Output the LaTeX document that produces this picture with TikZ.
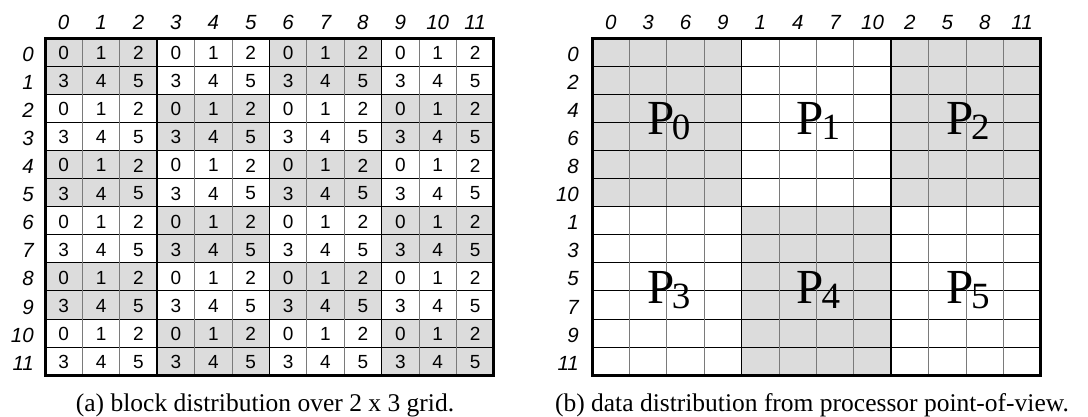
\documentclass[tikz,border=0pt]{standalone}
\usepackage{fontspec}
\setmainfont{Liberation Serif}
\setsansfont{Liberation Sans}
\definecolor{cellgray}{HTML}{DCDCDC}
\definecolor{linegray}{HTML}{7A7A7A}
\begin{document}
\begin{tikzpicture}[x=1pt,y=-1pt,
  num/.style={font=\sffamily\fontsize{19}{19}\selectfont, inner sep=0pt},
  lab/.style={font=\sffamily\itshape\fontsize{20.5}{20.5}\selectfont, inner sep=0pt},
  captext/.style={font=\fontsize{25.5}{26}\selectfont, inner sep=0pt, anchor=base},
  plab/.style={inner sep=0pt},
  hline/.style={line width=1pt, black},
  vline/.style={line width=1pt, linegray},
  blockline/.style={line width=1.6pt, black},
  border/.style={line width=3pt, black},
]
\useasboundingbox (0,0) rectangle (1088,416);
\def\cw{37.4}
\def\rh{28.1}
% ---------- left grid (a) ----------
\foreach \r in {0,...,11} {
  \foreach \c in {0,...,11} {
    \pgfmathtruncatemacro{\rb}{div(\r,2)}
    \pgfmathtruncatemacro{\cb}{div(\c,3)}
    \pgfmathtruncatemacro{\sh}{mod(\rb+\cb,2)}
    \pgfmathtruncatemacro{\val}{3*mod(\r,2)+mod(\c,3)}
    \ifnum\sh=0 \fill[cellgray] (45+\c*\cw, 38+\r*\rh) rectangle ++(\cw,\rh); \fi
    \node[num] (a-\r-\c) at (45+\c*\cw+\cw/2, 38+\r*\rh+\rh/2+1) {\val};
  }
}
\foreach \r in {1,...,11} {
  \draw[hline] (45, 38+\r*\rh) -- (45+12*\cw, 38+\r*\rh);
}
\foreach \c in {1,2,4,5,7,8,10,11} {
  \draw[vline] (45+\c*\cw, 38) -- (45+\c*\cw, 38+12*\rh);
}
\foreach \c in {3,6,9} {
  \draw[blockline] (45+\c*\cw, 38) -- (45+\c*\cw, 38+12*\rh);
}
\draw[border] (45,38) rectangle (45+12*\cw, 38+12*\rh);
\foreach \r in {0,...,11} {
  \node[lab, anchor=east] (ar-\r) at (34, 38+\r*\rh+\rh/2+2) {\r};
}
\foreach \c in {0,...,11} {
  \node[lab, anchor=base] (ac-\c) at (45+\c*\cw+\cw/2, 29.5) {\c};
}
\node[captext] (capa) at (265, 411) {(a) block distribution over 2 x 3 grid.};
% ---------- right grid (b) ----------
\fill[cellgray] (592, 38) rectangle ++(4*\cw, 6*\rh);
\fill[cellgray] (592+8*\cw, 38) rectangle ++(4*\cw, 6*\rh);
\fill[cellgray] (592+4*\cw, 38+6*\rh) rectangle ++(4*\cw, 6*\rh);
\foreach \r in {1,2,3,4,5,7,8,9,10,11} {
  \draw[hline] (592, 38+\r*\rh) -- (592+12*\cw, 38+\r*\rh);
}
\foreach \c in {1,2,3,5,6,7,9,10,11} {
  \draw[vline] (592+\c*\cw, 38) -- (592+\c*\cw, 38+12*\rh);
}
\draw[blockline] (592, 38+6*\rh) -- (592+12*\cw, 38+6*\rh);
\foreach \c in {4,8} {
  \draw[blockline] (592+\c*\cw, 38) -- (592+\c*\cw, 38+12*\rh);
}
\draw[border] (592,38) rectangle (592+12*\cw, 38+12*\rh);
\foreach \l [count=\i from 0] in {0,2,4,6,8,10,1,3,5,7,9,11} {
  \node[lab, anchor=east] (br-\i) at (579, 38+\i*\rh+\rh/2+2) {\l};
}
\foreach \l [count=\i from 0] in {0,3,6,9,1,4,7,10,2,5,8,11} {
  \node[lab, anchor=base] (bc-\i) at (592+\i*\cw+\cw/2, 29.5) {\l};
}
\foreach \p/\bc/\br in {0/0/0, 1/1/0, 2/2/0, 3/0/1, 4/1/1, 5/2/1} {
  \node[plab] (p\p) at (592+\bc*4*\cw+2*\cw+2, 38+\br*6*\rh+3*\rh-1)
    {\fontsize{49}{49}\selectfont P\kern-2.5pt\raisebox{-5pt}{\fontsize{37}{37}\selectfont \p}};
}
\node[captext] (capb) at (812, 411) {(b) data distribution from processor point-of-view.};
\end{tikzpicture}
\end{document}
